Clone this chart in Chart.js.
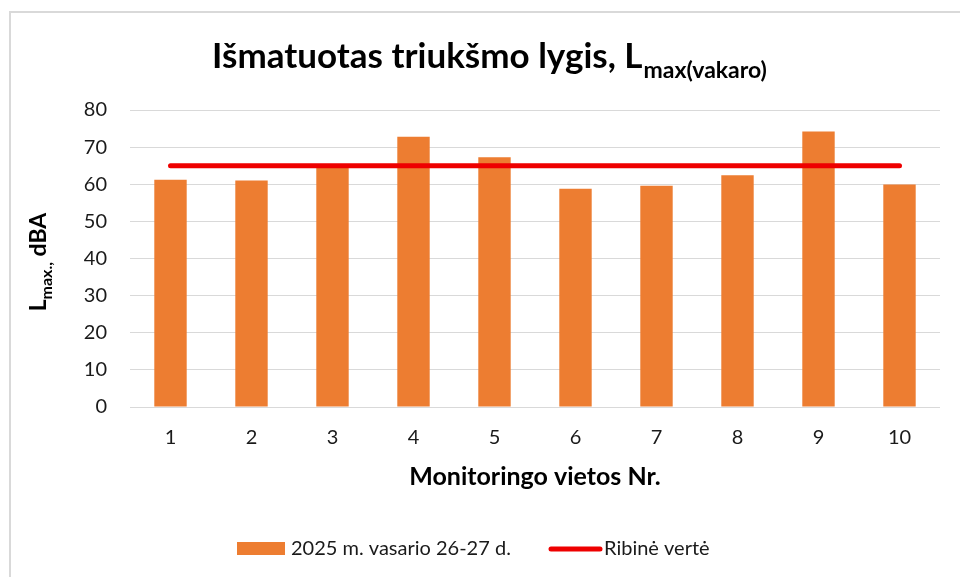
<!DOCTYPE html>
<html>
<head>
<meta charset="utf-8">
<script src="https://cdn.jsdelivr.net/npm/chart.js@4/dist/chart.umd.min.js"></script>
<style>
  html, body { margin: 0; padding: 0; background: #fff; overflow: hidden; }
  #wrap { position: relative; width: 960px; height: 577px; }
  #frame { position: absolute; left: 9px; top: 11px; width: 980px; height: 600px; border: 2px solid #d9d9d9; box-sizing: border-box; }
  canvas { position: absolute; left: 0; top: 0; }
</style>
</head>
<body>
<div id="wrap">
  <div id="frame"></div>
  <canvas id="c" width="960" height="577"></canvas>
</div>
<script>
const categories = ["1", "2", "3", "4", "5", "6", "7", "8", "9", "10"];
const measured = [61.2, 61.0, 64.6, 72.8, 67.3, 58.8, 59.6, 62.4, 74.2, 59.9];
const limitValues = [65, 65, 65, 65, 65, 65, 65, 65, 65, 65];
const seriesNames = ["2025 m. vasario 26-27 d.", "Ribinė vertė"];
const titleMain = "Išmatuotas triukšmo lygis, L";
const titleSub = "max(vakaro)";
const yTitleMain = "L";
const yTitleSub = "max.,";
const yTitleRest = " dBA";
const xTitle = "Monitoringo vietos Nr.";

const FONT = "Lato, 'Open Sans', sans-serif";
const ORANGE = "#ED7D31";
const RED = "#EE0000";

const textPlugin = {
  id: "texts",
  afterDraw(chart) {
    const ctx = chart.ctx;
    const area = chart.chartArea;
    ctx.save();
    ctx.fillStyle = "#000";
    ctx.textBaseline = "alphabetic";
    ctx.textAlign = "left";
    // Title
    ctx.font = "bold 35px " + FONT;
    const w1 = ctx.measureText(titleMain).width;
    ctx.font = "bold 23px " + FONT;
    const w2 = ctx.measureText(titleSub).width;
    const cx = 489;
    let x0 = cx - (w1 + w2) / 2;
    ctx.font = "bold 35px " + FONT;
    ctx.fillText(titleMain, x0, 68);
    ctx.font = "bold 23px " + FONT;
    ctx.fillText(titleSub, x0 + w1 + 1, 78);

    // Y title (rotated)
    ctx.save();
    ctx.translate(46, 262);
    ctx.rotate(-Math.PI / 2);
    ctx.font = "bold 23px " + FONT;
    const a = ctx.measureText(yTitleMain).width;
    ctx.font = "bold 16px " + FONT;
    const b = ctx.measureText(yTitleSub).width;
    ctx.font = "bold 23px " + FONT;
    const c = ctx.measureText(yTitleRest).width;
    let yx = -(a + b + c) / 2;
    ctx.fillText(yTitleMain, yx, 0);
    ctx.font = "bold 16px " + FONT;
    ctx.fillText(yTitleSub, yx + a, 6);
    ctx.font = "bold 23px " + FONT;
    ctx.fillText(yTitleRest, yx + a + b, 0);
    ctx.restore();

    // X title
    ctx.textAlign = "center";
    ctx.textBaseline = "middle";
    ctx.font = "bold 25px " + FONT;
    ctx.fillText(xTitle, (area.left + area.right) / 2, 477);

    // Legend
    ctx.textAlign = "left";
    ctx.font = "20px " + FONT;
    ctx.fillStyle = ORANGE;
    ctx.fillRect(237, 542, 48, 13);
    ctx.fillStyle = "#1a1a1a";
    ctx.fillText(seriesNames[0], 291, 549);
    ctx.strokeStyle = RED;
    ctx.lineWidth = 5;
    ctx.lineCap = "round";
    ctx.beginPath();
    ctx.moveTo(551, 549);
    ctx.lineTo(600, 549);
    ctx.stroke();
    ctx.fillText(seriesNames[1], 604, 549);
    ctx.restore();
  }
};

new Chart(document.getElementById("c"), {
  data: {
    labels: categories,
    datasets: [
      {
        type: "bar",
        label: seriesNames[0],
        data: measured,
        backgroundColor: ORANGE,
        borderWidth: 0,
        categoryPercentage: 1.0,
        barPercentage: 0.4,
        order: 2
      },
      {
        type: "line",
        label: seriesNames[1],
        data: limitValues,
        borderColor: RED,
        borderWidth: 5,
        borderCapStyle: "round",
        pointRadius: 0,
        fill: false,
        order: 1
      }
    ]
  },
  options: {
    responsive: false,
    animation: false,
    events: [],
    layout: { padding: { top: 110, right: 20, left: 0, bottom: 90 } },
    plugins: {
      legend: { display: false },
      title: { display: false },
      tooltip: { enabled: false }
    },
    scales: {
      x: {
        grid: { display: false, drawTicks: false },
        border: { display: false },
        ticks: { color: "#1a1a1a", font: { family: FONT, size: 20 }, padding: 19 },
        afterFit(s) { s.height = 80; }
      },
      y: {
        min: 0, max: 80,
        grid: { color: "#d9d9d9", lineWidth: 1, drawTicks: false },
        border: { display: false },
        ticks: { stepSize: 10, color: "#1a1a1a", font: { family: FONT, size: 20 }, padding: 23 },
        afterFit(s) { s.width = 130; }
      }
    }
  },
  plugins: [textPlugin]
});
</script>
</body>
</html>
